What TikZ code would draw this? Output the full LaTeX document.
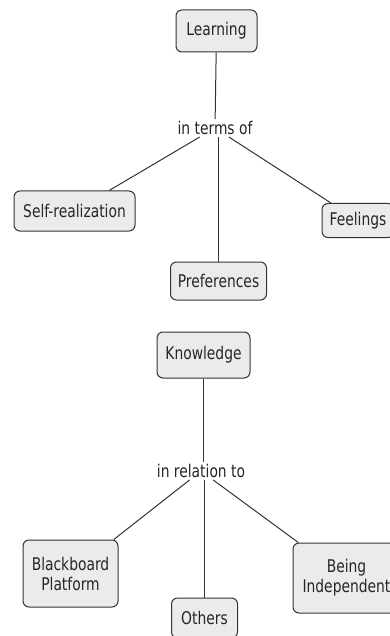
\documentclass[tikz,border=0pt]{standalone}
\usepackage{fontspec}
\setmainfont{DejaVu Sans Condensed}[FakeStretch=0.88]
\begin{document}
\begin{tikzpicture}[x=1pt,y=-1pt,
  concept/.style={draw=black!80, fill=black!8, rounded corners=6pt, line width=1pt,
    inner sep=2pt, align=center, font=\fontsize{17.5}{20}\selectfont, text=black!85},
  linker/.style={inner sep=2pt, font=\fontsize{17.5}{20}\selectfont, text=black!85},
  conn/.style={draw=black!80, line width=1pt}]
\useasboundingbox (0,0) rectangle (390,636);
\node[concept, minimum width=81pt, minimum height=42pt] (learn) at (216.5,31) {Learning};
\node[linker] (terms) at (215,128) {in terms of};
\node[concept, minimum width=121pt, minimum height=40pt] (self) at (74.5,211) {Self-realization};
\node[concept, minimum width=96pt, minimum height=38pt] (pref) at (218.5,281) {Preferences};
\node[concept, minimum width=72pt, minimum height=34pt] (feel) at (358,220.5) {Feelings};
\draw[conn] (learn) -- (terms);
\draw[conn] (terms) -- (self);
\draw[conn] (terms.south -| pref.north) -- (pref);
\draw[conn] (terms) -- (feel);

\node[concept, minimum width=93pt, minimum height=46pt] (know) at (203.5,355) {Knowledge};
\node[linker] (rel) at (201,471) {in relation to};
\node[concept, minimum width=95pt, minimum height=67pt] (black) at (70.5,573.5) {Blackboard\\Platform};
\node[concept, minimum width=66pt, minimum height=40pt] (others) at (204.5,618) {Others};
\node[concept, minimum width=107pt, minimum height=70pt] (indep) at (346.5,578) {Being\\Independent};
\draw[conn] (know) -- (rel.north -| know.south);
\draw[conn] (rel) -- (black);
\draw[conn] (rel.south -| others.north) -- (others);
\draw[conn] (rel) -- (indep);
\end{tikzpicture}
\end{document}
